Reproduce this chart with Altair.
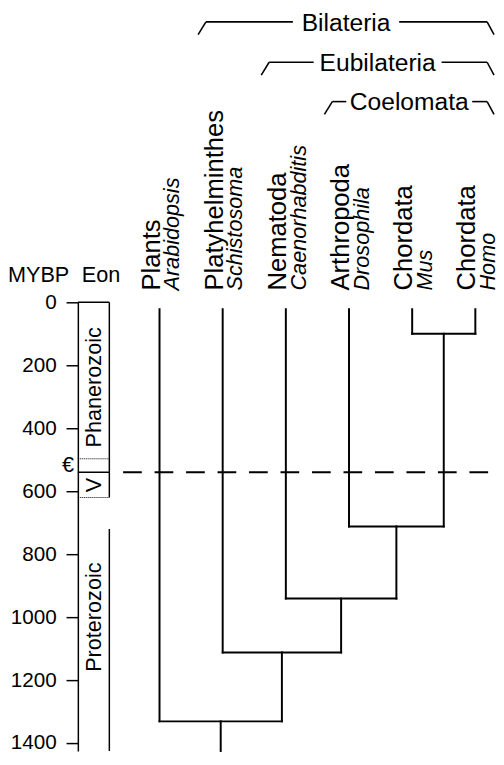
import altair as alt
import pandas as pd

FONT = "Arial"

# ---------------- data ----------------
phyla = ["Plants", "Platyhelminthes", "Nematoda", "Arthropoda", "Chordata", "Chordata"]
genera = ["Arabidopsis", "Schistosoma", "Caenorhabditis", "Drosophila", "Mus", "Homo"]
tip_age = 22                       # top of the terminal branches (MYBP)
first_pair = (4, 5)                # Mus + Homo
join_tips = [3, 2, 1, 0]           # tips joined successively to the growing clade
node_ages = [100, 712, 941, 1112, 1331]
root_end = 1425

ticks = [0, 200, 400, 600, 800, 1000, 1200, 1400]
eon_names = ["Phanerozoic", "V", "Proterozoic"]
eon_mid = [270, 580, 1000]
eon_solid = [540]
eon_dotted = [497, 620]
eon_right_edge = [(0, 620), (720, 1425)]
cambrian_symbol = "€"
cambrian_symbol_age = 517
cambrian_line = 540

clades = ["Bilateria", "Eubilateria", "Coelomata"]
clade_first = [1, 2, 3]
clade_last = [5, 5, 5]

# ---------------- layout (style) ----------------
W, H = 425, 456
XMIN, XMAX = -83 / 64.2, 5 + 21 / 64.2
PX = W / (XMAX - XMIN)             # pixels per tip spacing
clade_y = [-285, -244, -204]
clade_gap = [54, 65, 64]

xs = alt.Scale(domain=[XMIN, XMAX], nice=False, zero=False)
ys = alt.Scale(domain=[0, root_end], reverse=True, nice=False, zero=False)
yaxis = alt.Axis(values=ticks, format="d", tickSize=12, tickWidth=1.5, tickColor="black",
                 domainColor="black", domainWidth=1.5, labelFont=FONT,
                 labelFontSize=21, labelColor="black", labelPadding=10,
                 grid=False, title=None, labelOverlap=False)


def Y(field):
    return alt.Y(field, type="quantitative", scale=ys, axis=yaxis)


def X(field):
    return alt.X(field, type="quantitative", scale=xs, axis=None)


# ---------------- tree segments ----------------
segs = []
a, b = first_pair
age = node_ages[0]
segs.append(dict(x=a, x2=a, y=tip_age, y2=age))
segs.append(dict(x=b, x2=b, y=tip_age, y2=age))
segs.append(dict(x=a, x2=b, y=age, y2=age))
cur_x, cur_age = (a + b) / 2, age
for t, age in zip(join_tips, node_ages[1:]):
    segs.append(dict(x=t, x2=t, y=tip_age, y2=age))
    segs.append(dict(x=cur_x, x2=cur_x, y=cur_age, y2=age))
    segs.append(dict(x=t, x2=cur_x, y=age, y2=age))
    cur_x, cur_age = (t + cur_x) / 2, age
segs.append(dict(x=cur_x, x2=cur_x, y=cur_age, y2=root_end))
tree_df = pd.DataFrame(segs)

tree = alt.Chart(tree_df).mark_rule(color="black", strokeWidth=2, strokeCap="square").encode(
    x=X("x"), x2="x2", y=Y("y"), y2="y2")

tips_df = pd.DataFrame({"i": range(len(phyla)), "phylum": phyla, "genus": genera})
tip_big = alt.Chart(tips_df).mark_text(angle=270, align="left", baseline="alphabetic",
                                       font=FONT, fontSize=26, color="black").encode(
    x=X("i"), y=alt.value(-12), text="phylum")
tip_small = alt.Chart(tips_df).mark_text(angle=270, align="left", baseline="alphabetic",
                                         font=FONT, fontSize=22, fontStyle="italic",
                                         color="black", dy=20).encode(
    x=X("i"), y=alt.value(-12), text="genus")

# dashed Cambrian line
dash = alt.Chart(pd.DataFrame({"age": [cambrian_line]})).mark_rule(
    color="black", strokeWidth=2, strokeDash=[19, 13]).encode(
    y=Y("age"), x=alt.value(46), x2=alt.value(W))

# eon column
top_border = alt.Chart(pd.DataFrame({"age": [0]})).mark_rule(color="black", strokeWidth=1.5).encode(
    y=Y("age"), x=alt.value(0), x2=alt.value(32))
right_edge = alt.Chart(pd.DataFrame(eon_right_edge, columns=["a", "b"])).mark_rule(
    color="black", strokeWidth=1.5).encode(y=Y("a"), y2="b", x=alt.value(32))
solid = alt.Chart(pd.DataFrame({"age": eon_solid})).mark_rule(color="black", strokeWidth=1.5).encode(
    y=Y("age"), x=alt.value(0), x2=alt.value(32))
dotted = alt.Chart(pd.DataFrame({"age": eon_dotted})).mark_rule(
    color="black", strokeWidth=1, strokeDash=[1, 1]).encode(
    y=Y("age"), x=alt.value(0), x2=alt.value(32))
eon_text = alt.Chart(pd.DataFrame({"name": eon_names, "age": eon_mid})).mark_text(
    angle=270, align="center", baseline="middle", font=FONT, fontSize=22, color="black").encode(
    y=Y("age"), x=alt.value(17), text="name")
cam_text = alt.Chart(pd.DataFrame({"t": [cambrian_symbol], "age": [cambrian_symbol_age]})).mark_text(
    align="right", baseline="middle", font=FONT, fontSize=22, color="black").encode(
    y=Y("age"), x=alt.value(-4), text="t")
hdr = pd.DataFrame({"t": ["MYBP"]})
hdr1 = alt.Chart(hdr).mark_text(align="left", baseline="middle", font=FONT, fontSize=22,
                                color="black").encode(x=alt.value(-71), y=alt.value(-28),
                                                      text=alt.value("MYBP"))
hdr2 = alt.Chart(hdr).mark_text(align="left", baseline="middle", font=FONT, fontSize=22,
                                color="black").encode(x=alt.value(4), y=alt.value(-28),
                                                      text=alt.value("Eon"))

layers = [tree, dash, top_border, right_edge, solid, dotted, eon_text, cam_text,
          hdr1, hdr2, tip_big, tip_small]

# clade brackets
for name, f, l, yc, gap in zip(clades, clade_first, clade_last, clade_y, clade_gap):
    x_left = f - 25 / PX
    x_right = l + 19 / PX
    cx = (x_left + x_right) / 2
    hdf = pd.DataFrame({"x": [f - 17 / PX, cx + gap / PX], "x2": [cx - gap / PX, l + 12 / PX]})
    sdf = pd.DataFrame({"x": [x_left, x_right], "x2": [f - 17 / PX, l + 12 / PX]})
    layers.append(alt.Chart(hdf).mark_rule(color="black", strokeWidth=1.6).encode(
        x=X("x"), x2="x2", y=alt.value(yc)))
    layers.append(alt.Chart(sdf).mark_rule(color="black", strokeWidth=1.6).encode(
        x=X("x"), x2="x2", y=alt.value(yc + 13), y2=alt.value(yc)))
    layers.append(alt.Chart(pd.DataFrame({"t": [name], "x": [cx]})).mark_text(
        align="center", baseline="middle", font=FONT, fontSize=25, color="black").encode(
        x=X("x"), y=alt.value(yc + 1), text="t"))

chart = alt.layer(*layers).properties(
    width=W, height=H,
    padding={"left": 71, "top": 293, "right": 0, "bottom": 0},
    autosize=alt.AutoSizeParams(type="none"),
    background="white",
).configure_view(stroke=None)

chart.save("out.html", embed_options={"renderer": "svg", "actions": False})
